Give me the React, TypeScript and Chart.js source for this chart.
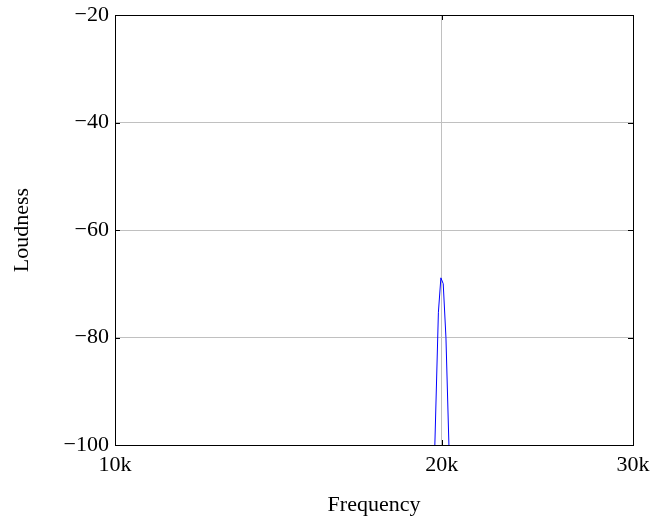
import React, { useEffect, useRef } from "react";
import { Chart, registerables } from "chart.js";

Chart.register(...registerables);

const frequencies = [19700, 19855, 19960, 20060, 20176, 20310];
const loudness = [-101, -75.3, -68.9, -70, -80, -101];
const xTicks = [10000, 20000, 30000];
const xTickLabels = ["10k", "20k", "30k"];
const yMin = -100;
const yMax = -20;
const yStep = 20;

const FONT = "'Liberation Serif', 'Times New Roman', serif";
const FS = 22;

const boxPlugin = {
  id: "boxPlugin",
  afterDraw(chart: any) {
    const { ctx, chartArea: a, scales } = chart;
    ctx.save();
    ctx.strokeStyle = "#000";
    ctx.lineWidth = 1;
    ctx.beginPath();
    const tl = 5;
    scales.y.ticks.forEach((t: any) => {
      const py = Math.round(scales.y.getPixelForValue(t.value)) + 0.5;
      ctx.moveTo(a.left, py);
      ctx.lineTo(a.left + tl, py);
      ctx.moveTo(a.right, py);
      ctx.lineTo(a.right - tl, py);
    });
    scales.x.ticks.forEach((t: any) => {
      const px = Math.round(scales.x.getPixelForValue(t.value)) + 0.5;
      ctx.moveTo(px, a.bottom);
      ctx.lineTo(px, a.bottom - tl);
      ctx.moveTo(px, a.top);
      ctx.lineTo(px, a.top + tl);
    });
    ctx.stroke();
    ctx.strokeRect(
      Math.round(a.left) + 0.5,
      Math.round(a.top) + 0.5,
      Math.round(a.right - a.left),
      Math.round(a.bottom - a.top)
    );
    ctx.restore();
  },
};

export default function App() {
  const ref = useRef<HTMLCanvasElement | null>(null);
  useEffect(() => {
    document.body.style.margin = "0";
    const canvas = ref.current!;
    const chart = new Chart(canvas, {
      type: "line",
      data: {
        datasets: [
          {
            data: frequencies.map((f, i) => ({ x: f, y: loudness[i] })),
            borderColor: "#0000ff",
            borderWidth: 1,
            pointRadius: 0,
            fill: false,
            tension: 0,
          },
        ],
      },
      options: {
        animation: false,
        responsive: false,
        maintainAspectRatio: false,
        layout: { padding: { top: 15, right: 20, left: 0, bottom: 0 } },
        plugins: { legend: { display: false }, tooltip: { enabled: false } },
        scales: {
          x: {
            type: "logarithmic",
            min: 10000,
            max: 30000,
            afterBuildTicks(scale: any) {
              scale.ticks = xTicks.map((v) => ({ value: v }));
            },
            afterFit(scale: any) {
              scale.height = 78;
              scale.paddingLeft = 0;
              scale.paddingRight = 0;
            },
            grid: { color: "#c0c0c0", drawTicks: false, lineWidth: 1 },
            border: { display: false },
            ticks: {
              autoSkip: false,
              maxRotation: 0,
              padding: 7,
              color: "#000",
              font: { family: FONT, size: FS },
              callback: (v: any) => {
                const i = xTicks.indexOf(Number(v));
                return i >= 0 ? xTickLabels[i] : "";
              },
            },
            title: {
              display: true,
              text: "Frequency",
              color: "#000",
              font: { family: FONT, size: FS },
              padding: { top: 0, bottom: 5 },
            },
          },
          y: {
            min: yMin,
            max: yMax,
            afterFit(scale: any) {
              scale.width = 115;
              scale.paddingTop = 0;
              scale.paddingBottom = 0;
            },
            grid: { color: "#c0c0c0", drawTicks: false, lineWidth: 1 },
            border: { display: false },
            ticks: {
              stepSize: yStep,
              padding: 6,
              color: "#000",
              font: { family: FONT, size: FS },
              callback: (v: any) => String(v).replace("-", "\u2212"),
            },
            title: {
              display: true,
              text: "Loudness",
              color: "#000",
              font: { family: FONT, size: FS },
              padding: { top: 9, bottom: 0 },
            },
          },
        },
      },
      plugins: [boxPlugin],
    });
    return () => chart.destroy();
  }, []);
  return <canvas ref={ref} width={653} height={523} style={{ display: "block" }} />;
}
